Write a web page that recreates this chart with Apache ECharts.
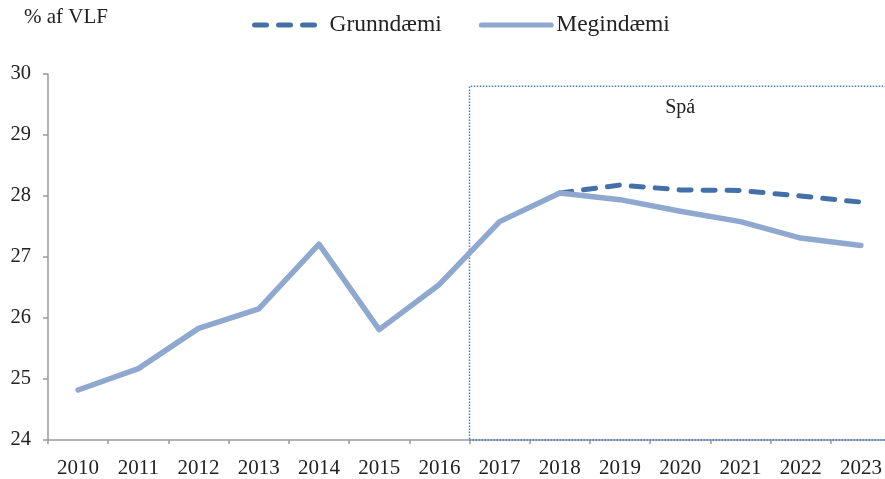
<!DOCTYPE html>
<html>
<head>
<meta charset="utf-8">
<script src="https://cdn.jsdelivr.net/npm/echarts@6/dist/echarts.min.js"></script>
<style>html,body{margin:0;padding:0;background:#fff;overflow:hidden;width:885px;height:479px}#c{width:891px;height:479px}</style>
</head>
<body>
<div id="c"></div>
<script>
const years = ['2010','2011','2012','2013','2014','2015','2016','2017','2018','2019','2020','2021','2022','2023'];
const grunndaemi = [null,null,null,null,null,null,null,null,28.05,28.18,28.10,28.09,28.00,27.90];
const megindaemi = [24.82,25.17,25.83,26.15,27.21,25.81,26.55,27.58,28.05,27.94,27.75,27.58,27.31,27.19];
const yTicks = [24,25,26,27,28,29,30];
const forecastStart = 7; // boundary before 2017 (band index)
const forecastTop = 29.8;

const FONT = 'Liberation Serif';
const chart = echarts.init(document.getElementById('c'));
chart.setOption({
  animation: false,
  backgroundColor: '#fff',
  textStyle: {fontFamily: FONT},
  grid: {left: 48, top: 74, bottom: 37, right: 0},
  title: {
    text: '% af VLF', left: 19, top: 2,
    textStyle: {fontFamily: FONT, fontSize: 21, fontWeight: 'normal', color: '#222'}
  },
  legend: {
    top: 8, left: 247, itemWidth: 70, itemHeight: 14, itemGap: 37,
    itemStyle: {opacity: 0},
    lineStyle: {width: 5},
    textStyle: {fontFamily: FONT, fontSize: 23.5, color: '#222'},
    data: ['Grunndæmi', 'Megindæmi']
  },
  xAxis: [{
    type: 'category', data: years, boundaryGap: true,
    axisLine: {lineStyle: {color: '#9a9a9a', width: 1.5}},
    axisTick: {show: true, length: 4, lineStyle: {color: '#9a9a9a', width: 1.5}},
    axisLabel: {fontFamily: FONT, fontSize: 21, color: '#222', margin: 18}
  }, {
    type: 'value', min: 0, max: 14, show: false
  }],
  yAxis: {
    type: 'value', min: yTicks[0], max: yTicks[yTicks.length-1], interval: 1,
    splitLine: {show: false},
    axisLine: {show: true, lineStyle: {color: '#9a9a9a', width: 1.5}},
    axisTick: {show: true, length: 5, lineStyle: {color: '#9a9a9a', width: 1.5}},
    axisLabel: {fontFamily: FONT, fontSize: 20.5, color: '#222', margin: 17}
  },
  series: [{
    name: 'forecast', type: 'line', xAxisIndex: 1, data: [], silent: true,
    markArea: {
      silent: true,
      itemStyle: {color: 'rgba(0,0,0,0)', borderColor: '#4a7cc8', borderWidth: 1.5, borderType: [1.5, 1.5]},
      label: {show: true, position: 'insideTop', distance: 12, formatter: 'Spá', fontFamily: FONT, fontSize: 20, color: '#222'},
      data: [[{coord: [forecastStart, yTicks[0]]}, {coord: [14, forecastTop]}]]
    }
  }, {
    name: 'Grunndæmi', type: 'line', data: grunndaemi, symbol: 'none', z: 3,
    lineStyle: {color: '#4470a8', width: 5, type: [12, 12], cap: 'round'},
    itemStyle: {color: '#4470a8'}
  }, {
    name: 'Megindæmi', type: 'line', data: megindaemi, symbol: 'none', z: 4,
    lineStyle: {color: '#8ea8cf', width: 5.5, cap: 'round', join: 'round'},
    itemStyle: {color: '#8ea8cf'}
  }]
});
</script>
</body>
</html>
